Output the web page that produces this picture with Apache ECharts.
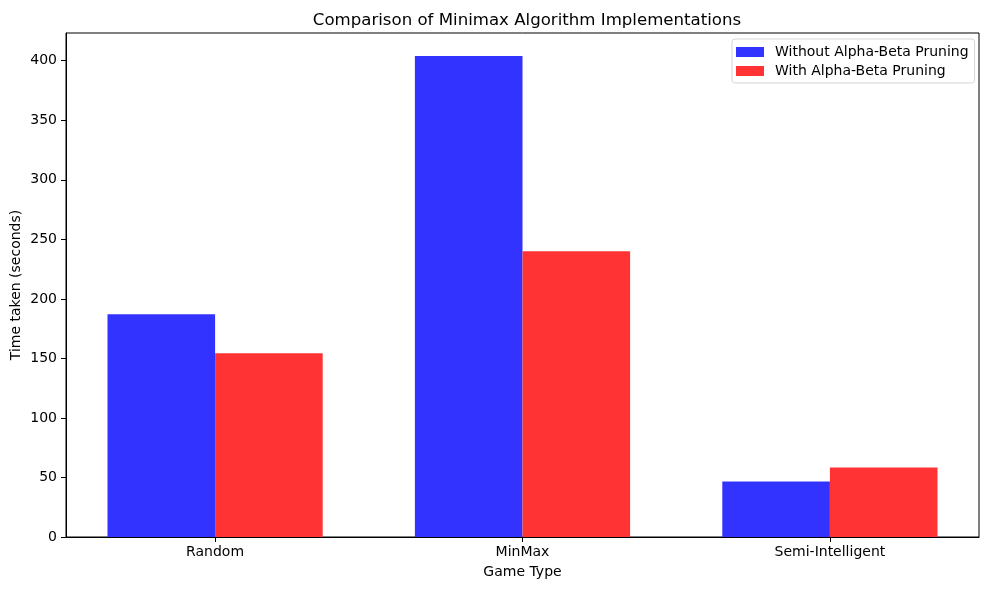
<!DOCTYPE html>
<html><head><meta charset="utf-8">
<script src="https://cdn.jsdelivr.net/npm/echarts@6/dist/echarts.min.js"></script>
<style>html,body{margin:0;padding:0;background:#fff}#c{width:989px;height:590px}</style>
</head><body><div id="c"></div>
<script>
const categories = ['Random', 'MinMax', 'Semi-Intelligent'];
const withoutPruning = [187.1, 404.0, 46.7];
const withPruning = [154.3, 240.0, 58.4];
const yTicks = [0, 50, 100, 150, 200, 250, 300, 350, 400];
const seriesNames = ['Without Alpha-Beta Pruning', 'With Alpha-Beta Pruning'];

const font = 'DejaVu Sans';
const chart = echarts.init(document.getElementById('c'));
chart.setOption({
  animation: false,
  textStyle: { fontFamily: font },
  title: {
    text: 'Comparison of Minimax Algorithm Implementations',
    left: 522, top: 7, textAlign: 'center',
    textStyle: { fontFamily: font, fontSize: 16.6, fontWeight: 'normal', color: '#000' }
  },
  legend: {
    orient: 'vertical', left: 732, top: 39,
    padding: [6, 6, 5, 4], itemGap: 5,
    itemWidth: 28, itemHeight: 10,
    borderColor: '#d5d5d5', borderWidth: 1, borderRadius: 3,
    icon: 'rect',
    textStyle: { fontFamily: font, fontSize: 14, color: '#000', padding: [0, 0, 0, 6] },
    data: seriesNames
  },
  grid: { left: 66, right: 10, top: 33, bottom: 53, containLabel: false, outerBoundsMode: 'none',
    show: true, borderColor: '#000', borderWidth: 1 },
  xAxis: {
    type: 'value', min: -0.485, max: 2.485,
    name: 'Game Type', nameLocation: 'middle', nameGap: 28, nameMoveOverlap: false,
    nameTextStyle: { fontFamily: font, fontSize: 14, color: '#000' },
    axisLine: { show: true, onZero: false, lineStyle: { color: '#000' } },
    axisTick: { show: true, length: 5, customValues: [0, 1, 2], lineStyle: { color: '#000' } },
    axisLabel: { customValues: [0, 1, 2], margin: 8, fontFamily: font, fontSize: 14, color: '#000',
      formatter: v => categories[Math.round(v)] },
    splitLine: { show: false }
  },
  yAxis: {
    type: 'value', min: 0, max: 423.3,
    name: 'Time taken (seconds)', nameLocation: 'middle', nameGap: 43, nameRotate: 90, nameMoveOverlap: false,
    nameTextStyle: { fontFamily: font, fontSize: 14, color: '#000' },
    axisLine: { show: true, onZero: false, lineStyle: { color: '#000' } },
    axisTick: { show: true, length: 5, customValues: yTicks, lineStyle: { color: '#000' } },
    axisLabel: { customValues: yTicks, margin: 9, fontFamily: font, fontSize: 14, color: '#000' },
    splitLine: { show: false }
  },
  series: [
    { name: seriesNames[0], type: 'bar', barWidth: 107.6, barGap: '0%',
      itemStyle: { color: '#3333ff' },
      data: withoutPruning.map((v, i) => [i, v]) },
    { name: seriesNames[1], type: 'bar', barWidth: 107.6, barGap: '0%',
      itemStyle: { color: '#ff3333' },
      data: withPruning.map((v, i) => [i, v]) }
  ]
});
</script></body></html>
